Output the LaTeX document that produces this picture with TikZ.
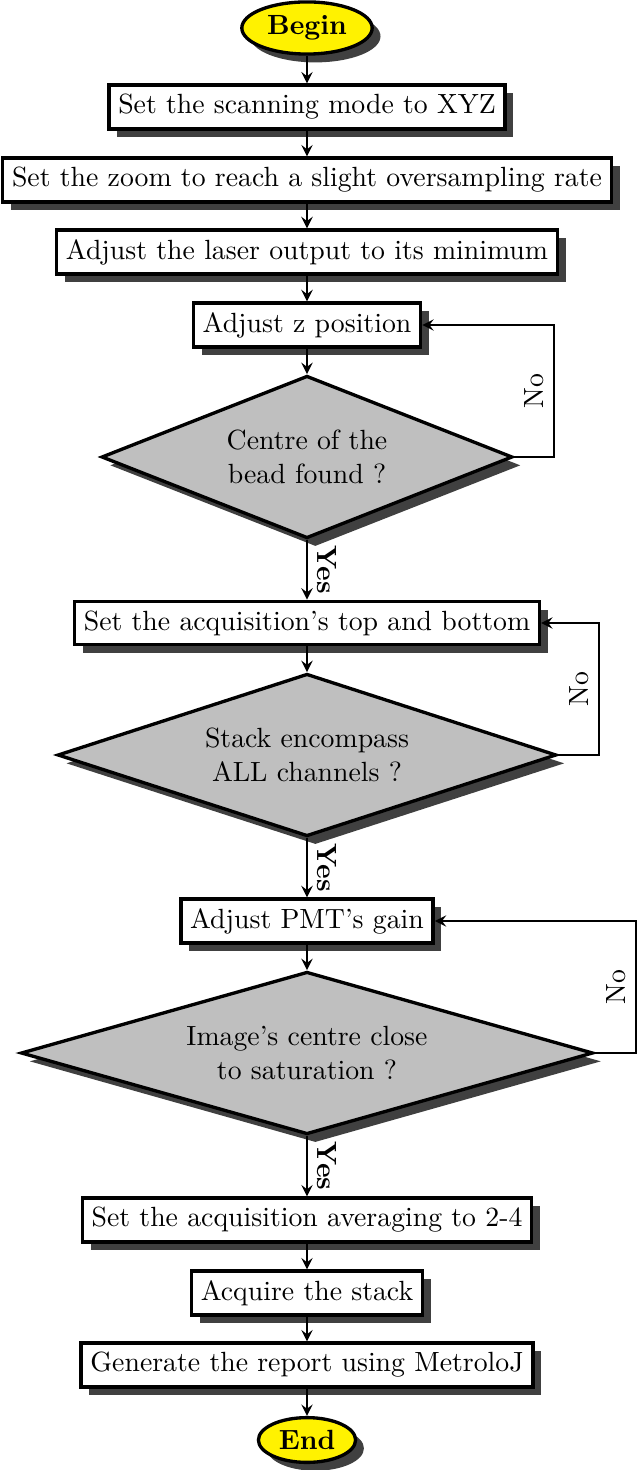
\documentclass[tikz,border=0pt]{standalone}
\usepackage{tikz}
\usetikzlibrary{shapes.geometric,shadows}
\tikzset{
	myshadow/.style={drop shadow={shadow xshift=3pt, shadow yshift=-3pt, fill=black!75, opacity=1}},
	terminal/.style={ellipse, draw, very thick, fill=yellow, inner sep=2.2pt, font=\bfseries, myshadow},
	stepbox/.style={rectangle, draw, very thick, fill=white, myshadow},
	decision/.style={diamond, draw, very thick, fill=black!25, aspect=3, inner sep=0pt, minimum height=58.5pt, align=center, myshadow},
	flow/.style={-stealth, thick},
	yeslabel/.style={midway, above, rotate=-90, font=\bfseries},
	nolabel/.style={pos=0.25, above, rotate=90}
}

\begin{document}
\begin{tikzpicture}[x=0.36pt, y=-0.36pt]
		%%%%% START %%%%%
		\useasboundingbox (0, 0) rectangle (637, 1470);
		
		\node[terminal] (start) at (307, 28) {Begin};
		\node[stepbox] (scan) at (307, 107) {Set the scanning mode to XYZ};
		\node[stepbox] (zoom) at (307, 180) {Set the zoom to reach a slight oversampling rate};
		\node[stepbox] (laser) at (307, 252) {Adjust the laser output to its minimum};
		\node[stepbox] (zpos) at (307, 325) {Adjust z position};
		\node[decision, minimum width=148pt] (bead) at (307, 457) {Centre of the\\bead found ?};
		
		\node[stepbox] (topbot) at (307, 623) {Set the acquisition's top and bottom};
		\node[decision, minimum width=179.6pt] (stack) at (307, 755) {Stack encompass\\ALL channels ?};
		
		\node[stepbox] (gain) at (307, 921) {Adjust PMT's gain};
		\node[decision, minimum width=206pt] (satur) at (307, 1053) {Image's centre close\\to saturation ?};
		
		\node[stepbox] (avg) at (307, 1220) {Set the acquisition averaging to 2-4};
		\node[stepbox] (acq) at (307, 1293) {Acquire the stack};
		\node[stepbox] (report) at (307, 1365) {Generate the report using MetroloJ};
		\node[terminal] (stop) at (307, 1440) {End};
		
		\draw[flow] (start) -- (scan);
		\draw[flow] (scan) -- (zoom);
		\draw[flow] (zoom) -- (laser);
		\draw[flow] (laser) -- (zpos);
		\draw[flow] (zpos) -- (bead);
		\draw[flow] (bead.east) -- ++(40, 0) |- node[nolabel] {No} (zpos.east);
		\draw[flow] (bead) -- node[yeslabel] {Yes} (topbot);
		
		\draw[flow] (topbot) -- (stack);
		\draw[flow] (stack.east) -- ++(41, 0) |- node[nolabel] {No} (topbot.east);
		\draw[flow] (stack) -- node[yeslabel] {Yes} (gain);
		
		\draw[flow] (gain) -- (satur);
		\draw[flow] (satur.east) -- ++(41, 0) |- node[nolabel] {No} (gain.east);
		\draw[flow] (satur) -- node[yeslabel] {Yes} (avg);
		
		\draw[flow] (avg) -- (acq);
		\draw[flow] (acq) -- (report);
		\draw[flow] (report) -- (stop);
		%%%%% END %%%%%
\end{tikzpicture}
\end{document}
